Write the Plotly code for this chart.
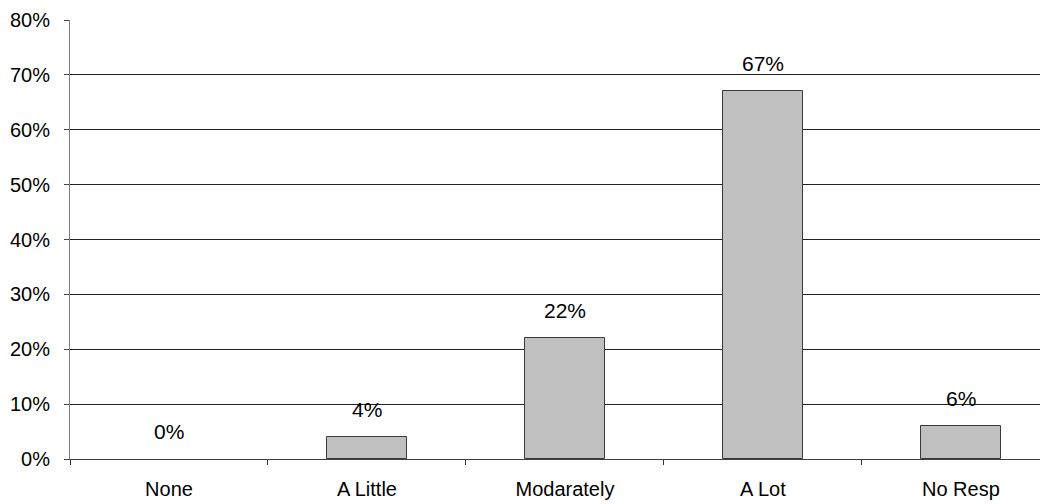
import plotly.graph_objects as go

categories = ["None", "A Little", "Modarately", "A Lot", "No Resp"]
values = [0, 4, 22, 67, 6]
labels = ["0%", "4%", "22%", "67%", "6%"]
y_ticks = [0, 10, 20, 30, 40, 50, 60, 70, 80]
y_tick_text = [f"{v}%" for v in y_ticks]

FONT = "Liberation Sans, Arial, sans-serif"

fig = go.Figure()
fig.add_trace(go.Bar(
    x=categories, y=values, width=0.404,
    marker=dict(color="#c0c0c0",
                line=dict(color="#3a3a3a", width=[0 if v == 0 else 1 for v in values])),
    hoverinfo="skip",
))
for c, v, t in zip(categories, values, labels):
    fig.add_annotation(x=c, y=v, text=t, showarrow=False, yanchor="bottom",
                       yshift=14, font=dict(family=FONT, size=21, color="#000"))

# page body adds an 8px offset, so the figure is sized 1040x496
fig.update_layout(
    width=1040, height=496,
    margin=dict(l=62, r=0, t=12, b=45, autoexpand=False),
    paper_bgcolor="white", plot_bgcolor="white",
    showlegend=False,
    font=dict(family=FONT, size=21, color="#000"),
    bargap=0,
)
fig.update_xaxes(
    type="category", range=[-0.5, 4.44], tickson="boundaries",
    ticks="outside", ticklen=5, tickcolor="#333", showgrid=False,
    showline=True, linecolor="#404040", linewidth=1, automargin=False,
    ticklabelstandoff=12, tickfont=dict(size=20),
)
fig.update_yaxes(
    range=[0, 80], tickvals=y_ticks, ticktext=y_tick_text,
    ticks="outside", ticklen=5, tickcolor="#444",
    showgrid=True, gridcolor="#222", gridwidth=1,
    showline=True, linecolor="#808080", linewidth=1, automargin=False,
    zeroline=False, ticklabelstandoff=10, tickfont=dict(size=20),
)
fig.write_html("out.html")
